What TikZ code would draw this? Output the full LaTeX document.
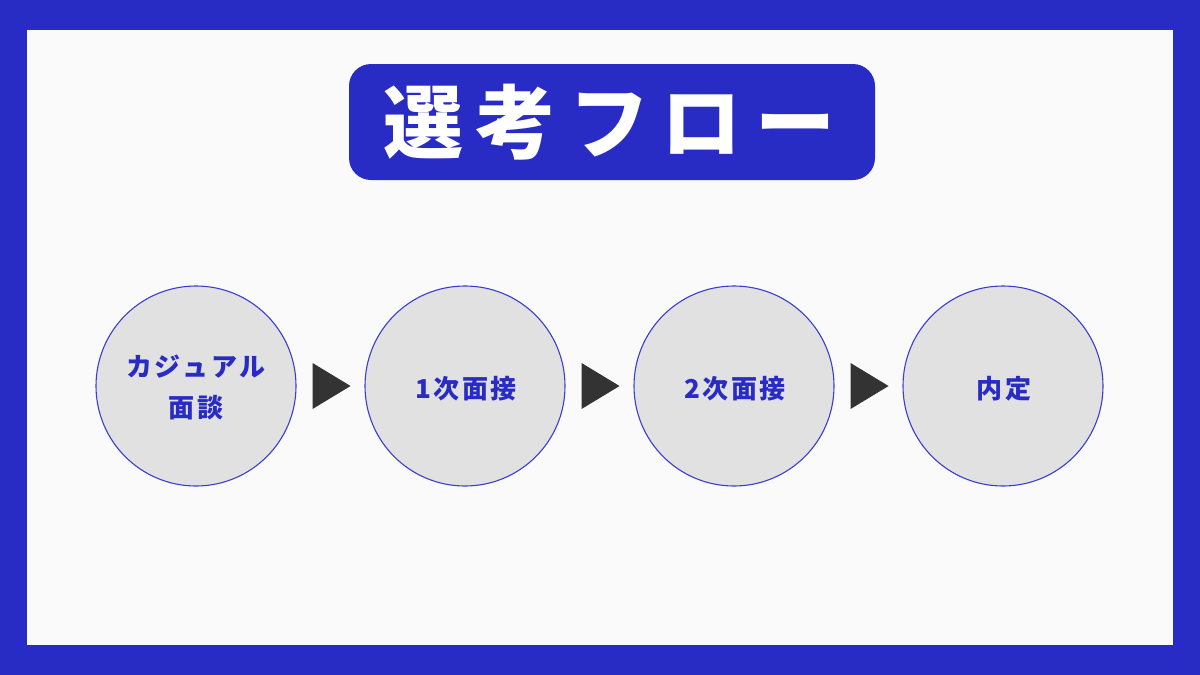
\documentclass[tikz,border=0pt]{standalone}
\usepackage{fontspec}
\newfontfamily\jp{Noto Sans CJK JP}
\usetikzlibrary{calc}
\definecolor{frameblue}{HTML}{282CC4}
\definecolor{linecol}{HTML}{3A3ED0}
\definecolor{paper}{HTML}{FAFAFA}
\definecolor{disc}{HTML}{E1E1E1}
\definecolor{tricol}{HTML}{333333}
\tikzset{
  stage/.style={circle, draw=linecol, line width=1.1pt, fill=disc, minimum size=200pt, inner sep=0pt},
  stagetext/.style={text=frameblue, font=\jp\bfseries\fontsize{26pt}{41pt}\selectfont, align=center, inner sep=0pt},
  tri/.style={fill=tricol},
  titlebox/.style={fill=frameblue, rounded corners=22pt, minimum width=526pt, minimum height=116pt, inner sep=0pt},
  titletext/.style={text=white, font=\jp\bfseries\fontsize{80pt}{80pt}\selectfont, inner sep=0pt}
}
\newcommand{\gp}{\kern2.5pt}
\newcommand{\tgp}{\kern13pt}
\begin{document}
\begin{tikzpicture}[x=1pt,y=-1pt]
\useasboundingbox (0,0) rectangle (1200,675);
\fill[frameblue] (0,0) rectangle (1200,675);
\fill[paper] (27,30) rectangle (1173,645);
\node[titlebox] (title) at (612,122) {};
\node[titletext] (titlelabel) at (609,122) {選\tgp 考\tgp フ\tgp ロ\tgp ー};
\node[stage] (c1) at (196,386) {};
\node[stage] (c2) at (465,386) {};
\node[stage] (c3) at (734,386) {};
\node[stage] (c4) at (1003,386) {};
\node[stagetext] (t1) at (196,387) {カ\gp ジ\gp ュ\gp ア\gp ル\\面\gp 談};
\node[stagetext] (t2) at (466,389) {1\gp 次\gp 面\gp 接};
\node[stagetext] (t3) at (735,389) {2\gp 次\gp 面\gp 接};
\node[stagetext] (t4) at (1004,389) {内\gp 定};
\foreach \a in {c1,c2,c3}{
  \fill[tri] ($(\a.east)+(16,-23)$) -- ++(38,23) -- ++(-38,23) -- cycle;
}
\end{tikzpicture}
\end{document}
